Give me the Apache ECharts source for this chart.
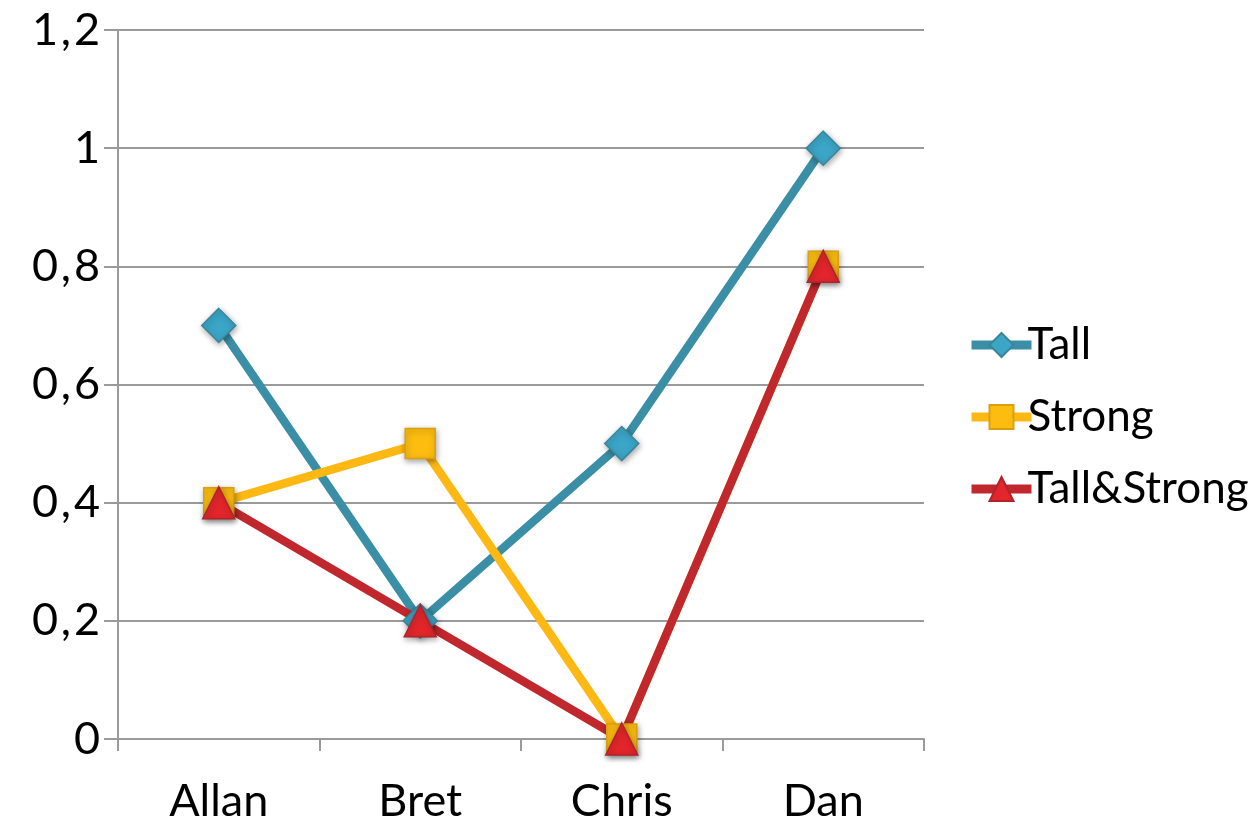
<!DOCTYPE html>
<html>
<head>
<meta charset="utf-8">
<script src="https://cdn.jsdelivr.net/npm/echarts@6/dist/echarts.min.js"></script>
<style>html,body{margin:0;padding:0;background:#fff}#c{width:1258px;height:817px}</style>
</head>
<body>
<div id="c"></div>
<script>
const categories = ['Allan', 'Bret', 'Chris', 'Dan'];
const tall = [0.7, 0.2, 0.5, 1.0];
const strong = [0.4, 0.5, 0, 0.8];
const tallStrong = [0.4, 0.2, 0, 0.8];
const seriesNames = ['Tall', 'Strong', 'Tall&Strong'];

const font = 'Lato, "Open Sans", sans-serif';
const chart = echarts.init(document.getElementById('c'));
function mk(name, data, symbol, size, lineColor, fillColor, borderColor) {
  return {
    name, type: 'line', data, symbol, symbolSize: size,
    lineStyle: { color: lineColor, width: 8.5 },
    itemStyle: { color: fillColor, borderColor: borderColor, borderWidth: 1.5,
      shadowBlur: 6, shadowColor: 'rgba(0,0,0,0.35)', shadowOffsetX: 1, shadowOffsetY: 2 },
    emphasis: { disabled: true },
    animation: false
  };
}
chart.setOption({
  animation: false,
  grid: { left: 118, right: 334, top: 30, bottom: 78, containLabel: false, outerBoundsMode: 'none' },
  legend: {
    orient: 'vertical', left: 962, top: 318,
    itemWidth: 60, itemHeight: 30, itemGap: 28,
    lineStyle: { width: 9 },
    textStyle: { fontFamily: font, fontSize: 44, color: '#000', lineHeight: 42, padding: [0, 0, 0, -9] },
    data: seriesNames
  },
  xAxis: {
    type: 'category', data: categories, boundaryGap: true,
    axisLine: { lineStyle: { color: '#9a9a9a', width: 2 } },
    axisTick: { show: true, length: 12, lineStyle: { color: '#9a9a9a', width: 2 } },
    axisLabel: { fontFamily: font, fontSize: 45, color: '#000', margin: 40 }
  },
  yAxis: {
    type: 'value', min: 0, max: 1.2, interval: 0.2,
    axisLine: { show: true, lineStyle: { color: '#9a9a9a', width: 2 } },
    axisTick: { show: true, length: 14, lineStyle: { color: '#9a9a9a', width: 2 } },
    splitLine: { lineStyle: { color: '#9a9a9a', width: 2 } },
    axisLabel: { fontFamily: font, fontSize: 45, color: '#000', margin: 18,
      formatter: v => String(Math.round(v * 10) / 10).replace('.', ' , ').replace(/ /g, '\u200a') }
  },
  series: [
    mk(seriesNames[0], tall, 'diamond', 34, '#3a8fa6', '#3ba6c8', '#3a8599'),
    mk(seriesNames[1], strong, 'rect', 30, '#fdb813', '#fdbd10', '#d9a010'),
    mk(seriesNames[2], tallStrong, 'triangle', 32, '#c0282e', '#e3262b', '#b02328')
  ]
});
</script>
</body>
</html>
